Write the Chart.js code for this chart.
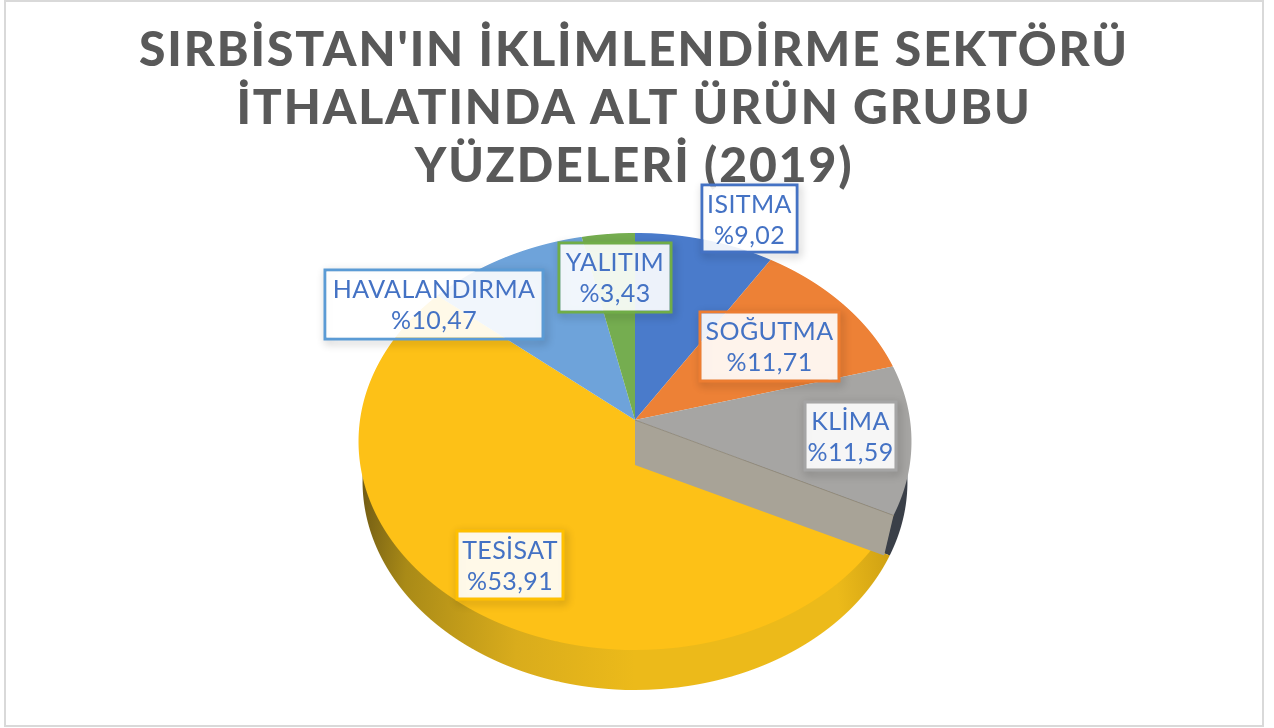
<!DOCTYPE html>
<html>
<head>
<meta charset="utf-8">
<script src="https://cdn.jsdelivr.net/npm/chart.js@4"></script>
<style>
  body { margin: 0; background: #fff; }
  #frame { position: absolute; left: 4px; top: 0; width: 1260px; height: 727px; box-sizing: border-box; border: 2px solid #d9d9d9; }
  #wrap { position: absolute; left: 0; top: 0; width: 1274px; height: 728px; }
</style>
</head>
<body>
<div id="frame"></div>
<div id="wrap"><canvas id="pasta" width="1274" height="728"></canvas></div>
<script>
const titleLines = ["SIRBİSTAN'IN İKLİMLENDİRME SEKTÖRÜ", "İTHALATINDA ALT ÜRÜN GRUBU", "YÜZDELERİ (2019)"];
const categories = ["ISITMA", "SOĞUTMA", "KLİMA", "TESİSAT", "HAVALANDIRMA", "YALITIM"];
const values = [9.02, 11.71, 11.59, 53.91, 10.47, 3.43];
const topColors = ["#4a7bcb", "#ed8136", "#a6a5a3", "#fdc117", "#6ea3da", "#75ad50"];
const edgeColors = ["#4472c4", "#ed7d31", "#a5a5a5", "#ffc000", "#5b9bd5", "#70ad47"];
const rimColors = ["#1f3864", "#2a3a55", "#3a3f48", "#e8b81e", "#3d6a94", "#4c7530"];

// perspective of the 3D pie: k is how much the front grows, a the vertical size
const pie = { cx: 635, cy: 420, rx: 275, rimRx: 271, k: 0.103, a: 206.3, depth: 40 };
const boxes = [
  { x: 702, y: 185, w: 95, h: 67 },
  { x: 700, y: 312, w: 139, h: 69 },
  { x: 805, y: 402, w: 91, h: 68 },
  { x: 457, y: 531, w: 106, h: 68 },
  { x: 325, y: 270, w: 218, h: 69 },
  { x: 559, y: 243, w: 112, h: 69 }
];

// draws the arcs row by row, each row with its own scale
function drawFace(ctx, arcs, rx, shift, colors, frontOnly) {
  const oy = pie.cy + shift;
  const first = frontOnly ? oy : oy - 188;
  for (let row = first; row < oy + 232; row++) {
    const dy = row + 0.5 - oy;
    const v = dy / (pie.a + pie.k * dy);
    const w = 1 - pie.k * v;
    ctx.save();
    ctx.beginPath();
    ctx.rect(0, row, 1274, 1);
    ctx.clip();
    arcs.forEach((arc, i) => {
      const r = arc.outerRadius;
      ctx.save();
      ctx.translate(pie.cx, row + 0.5);
      ctx.scale(rx / w / r, pie.a / (w * w) / r);
      ctx.translate(-arc.x, -arc.y - v * r);
      const saved = arc.options;
      if (colors) arc.options = Object.assign({}, saved, { backgroundColor: colors[i] });
      arc.draw(ctx);
      arc.options = saved;
      ctx.restore();
    });
    ctx.restore();
  }
}

function project(angle, rx, shift) {
  const v = Math.sin(angle);
  const w = 1 - pie.k * v;
  return { x: pie.cx + rx * Math.cos(angle) / w, y: pie.cy + shift + pie.a * v / w };
}

const pie3d = {
  id: "pie3d",
  beforeDraw(chart) {
    chart.ctx.letterSpacing = "1.9px";
  },
  beforeDatasetsDraw(chart) {
    const ctx = chart.ctx;
    ctx.letterSpacing = "0px";
    const arcs = chart.getDatasetMeta(0).data;

    // rim, only the front half shows
    const rim = rimColors.slice();
    const grad = ctx.createLinearGradient(arcs[3].x - arcs[3].outerRadius, 0, arcs[3].x + arcs[3].outerRadius, 0);
    grad.addColorStop(0, "#6f5a14");
    grad.addColorStop(0.1, "#a98a17");
    grad.addColorStop(0.3, "#d9ac1c");
    grad.addColorStop(0.5, "#ecba1a");
    grad.addColorStop(0.85, "#ecba1a");
    grad.addColorStop(1, "#c0940f");
    rim[3] = grad;
    drawFace(ctx, arcs, pie.rimRx, pie.depth, rim, true);

    // top face
    drawFace(ctx, arcs, pie.rx, 0, null, false);

    // inner wall of the KLİMA slice, seen through the tilt
    const a = arcs[2].endAngle;
    const up = project(a, pie.rx, 0);
    const down = project(a, pie.rimRx - 6, pie.depth);
    ctx.beginPath();
    ctx.moveTo(pie.cx, pie.cy);
    ctx.lineTo(up.x, up.y);
    ctx.lineTo(down.x, down.y);
    ctx.lineTo(pie.cx, pie.cy + pie.depth + 5);
    ctx.closePath();
    ctx.fillStyle = "#a8a397";
    ctx.fill();
    ctx.strokeStyle = "#8f8b84";
    ctx.lineWidth = 1;
    ctx.beginPath();
    ctx.moveTo(pie.cx, pie.cy);
    ctx.lineTo(up.x, up.y);
    ctx.stroke();
    return false;
  },
  afterDraw(chart) {
    const ctx = chart.ctx;
    categories.forEach((name, i) => {
      const b = boxes[i];
      ctx.save();
      ctx.shadowColor = "rgba(0,0,0,0.3)";
      ctx.shadowBlur = 8;
      ctx.shadowOffsetX = 2;
      ctx.shadowOffsetY = 3;
      ctx.strokeStyle = edgeColors[i];
      ctx.lineWidth = 3;
      ctx.strokeRect(b.x, b.y, b.w, b.h);
      ctx.restore();
      ctx.fillStyle = "rgba(255,255,255,0.9)";
      ctx.fillRect(b.x + 1.5, b.y + 1.5, b.w - 3, b.h - 3);
      ctx.fillStyle = "#4472c4";
      ctx.font = "25px Lato";
      ctx.letterSpacing = "0.4px";
      ctx.textAlign = "center";
      ctx.textBaseline = "alphabetic";
      const mid = b.x + b.w / 2;
      ctx.fillText(name, mid, b.y + 28);
      ctx.fillText("%" + values[i].toFixed(2).replace(".", ","), mid, b.y + 59);
    });
  }
};

const data = {
  labels: categories,
  datasets: [
    {
      data: values,
      backgroundColor: topColors,
      borderWidth: 0
    }
  ]
};

const config = {
  type: "pie",
  data: data,
  plugins: [pie3d],
  options: {
    responsive: false,
    animation: false,
    layout: { padding: { right: 6 } },
    plugins: {
      legend: { display: false },
      tooltip: { enabled: false },
      title: {
        display: true,
        fullSize: false,
        text: titleLines,
        color: "#595959",
        font: { family: "Lato", size: 48, weight: 900, lineHeight: 1.21 },
        padding: { top: 21, bottom: 10 }
      }
    }
  }
};

new Chart(document.getElementById("pasta"), config);
</script>
</body>
</html>
